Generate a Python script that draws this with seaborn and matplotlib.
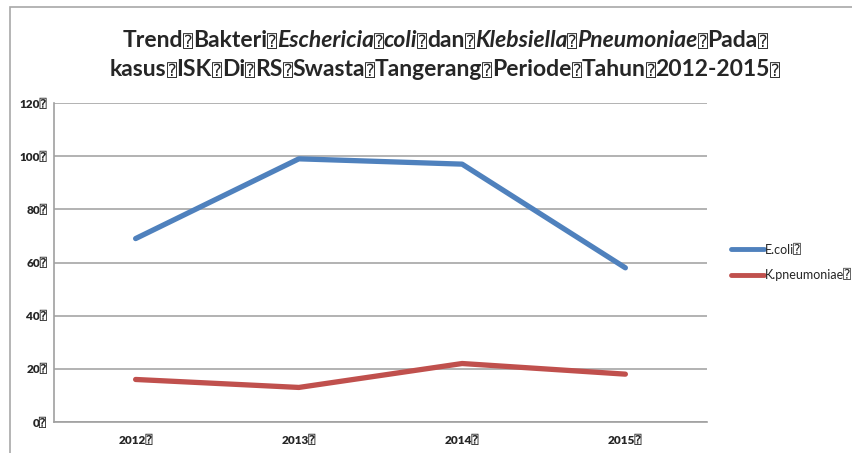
import pandas as pd
import seaborn as sns
import matplotlib.pyplot as plt
from matplotlib.patches import Rectangle

# --------------------------------------------------
# Data
# --------------------------------------------------
years = ["2012", "2013", "2014", "2015"]
ecoli = [69, 99, 97, 58]
kpneumoniae = [16, 13, 22, 18]
series_names = ["E.coli", "K.pneumoniae"]
y_ticks = [0, 20, 40, 60, 80, 100, 120]

BOX = "\u2370"  # the missing-glyph box seen in the reference
FONT = ["Lato", "DejaVu Sans", "DejaVu Sans Mono"]

df = pd.DataFrame({
    "year": years * 2,
    "value": ecoli + kpneumoniae,
    "series": [series_names[0] + BOX] * 4 + [series_names[1] + BOX] * 4,
})

sns.set_style("white")
plt.rcParams["font.family"] = FONT

fig = plt.figure(figsize=(8.53, 4.53), dpi=100)
ax = fig.add_axes([54 / 853, 1 - 422 / 453, (707 - 54) / 853, (422 - 103) / 453])

sns.lineplot(
    data=df, x="year", y="value", hue="series",
    palette=["#4F81BD", "#C0504D"], linewidth=3.8, ax=ax,
    sort=False, legend=True,
)

ax.set_xlim(-0.5, 3.5)
ax.set_ylim(0, 120)
ax.set_yticks(y_ticks)
ax.set_yticklabels([f"{v}{BOX}" for v in y_ticks], fontsize=8.5, fontweight="heavy")
ax.set_xticks(range(len(years)))
ax.set_xticklabels([y + BOX for y in years], fontsize=8.5, fontweight="heavy")
ax.set_xticks([-0.5, 0.5, 1.5, 2.5, 3.5], minor=True)
ax.tick_params(axis="x", which="major", length=0, pad=9)
ax.tick_params(axis="x", which="minor", length=4, color="#a0a0a0", direction="out")
ax.tick_params(axis="y", length=4, color="#a0a0a0", direction="out", pad=1)
ax.set_xlabel("")
ax.set_ylabel("")

ax.yaxis.grid(True, color="#a6a6a6", linewidth=1.2)
for side in ["top", "right"]:
    ax.spines[side].set_visible(False)
for side in ["left", "bottom"]:
    ax.spines[side].set_color("#a0a0a0")
    ax.spines[side].set_linewidth(1.2)

handles, labels = ax.get_legend_handles_labels()
leg = ax.legend(
    handles, labels, loc="center left", bbox_to_anchor=(1.02, 0.5),
    frameon=False, fontsize=9, handlelength=2.6, handletextpad=0.1,
    labelspacing=1.0,
)
for line in leg.get_lines():
    line.set_linewidth(3.5)

# chart border (only top and left edges fall inside the picture)
fig.patches.append(Rectangle((10 / 853, -0.1), 1.0, 1 - 7 / 453 + 0.1,
                             transform=fig.transFigure, fill=False,
                             edgecolor="#a8a8a8", linewidth=1.2))

# --------------------------------------------------
# Title with italic species names, boxes drawn smaller
# --------------------------------------------------
title_lines = [
    [("Trend" + BOX + "Bakteri" + BOX, "normal"), ("Eschericia", "italic"), (BOX, "normal"),
     ("coli", "italic"), (BOX + "dan" + BOX, "normal"), ("Klebsiella", "italic"),
     (BOX, "normal"), ("Pneumoniae", "italic"), (BOX + "Pada" + BOX, "normal")],
    [("kasus" + BOX + "ISK" + BOX + "Di" + BOX + "RS" + BOX + "Swasta" + BOX + "Tangerang"
      + BOX + "Periode" + BOX + "Tahun" + BOX + "2012-2015" + BOX, "normal")],
]
baselines = [1 - 47 / 453, 1 - 76 / 453]

renderer = fig.canvas.get_renderer()
for pieces, yb in zip(title_lines, baselines):
    texts = []
    for s, st in pieces:
        parts = s.split(BOX)
        for i, p in enumerate(parts):
            if p:
                texts.append(fig.text(0, yb, p, fontsize=16.5, fontweight="bold",
                                      fontstyle=st, va="baseline", ha="left"))
            if i < len(parts) - 1:
                texts.append(fig.text(0, yb, BOX, fontsize=12, va="baseline", ha="left"))
    widths = [t.get_window_extent(renderer).width for t in texts]
    x = 445 - sum(widths) / 2
    for t, w in zip(texts, widths):
        t.set_x(x / 853)
        x += w

plt.savefig("out.png", dpi=100)
plt.close()
